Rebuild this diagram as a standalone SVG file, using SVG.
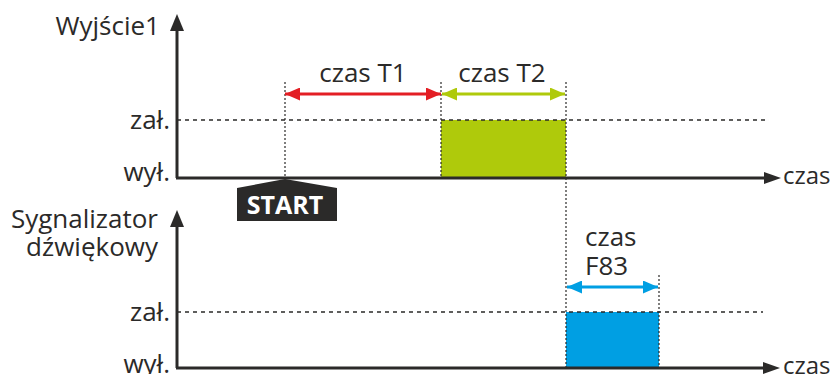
<svg xmlns="http://www.w3.org/2000/svg" width="839" height="374" viewBox="0 0 839 374">
<defs>
<style>
text{font-family:"Open Sans","Liberation Sans",sans-serif;font-size:26px;fill:#2b2a29}
.ax{stroke:#2b2a29;stroke-width:3;fill:none}
.dash{stroke:#2b2a29;stroke-width:1.5;stroke-dasharray:4 4;fill:none}
.dot{stroke:#2b2a29;stroke-width:1.2;stroke-dasharray:2 2;fill:none}
.r{text-anchor:end}
</style>
<marker id="ar" viewBox="0 0 15 13" refX="15" refY="6.5" markerWidth="15" markerHeight="13" markerUnits="userSpaceOnUse" orient="auto-start-reverse"><path d="M0,0L15,6.5L0,13z" fill="#e31e24"/></marker>
<marker id="ag" viewBox="0 0 15 13" refX="15" refY="6.5" markerWidth="15" markerHeight="13" markerUnits="userSpaceOnUse" orient="auto-start-reverse"><path d="M0,0L15,6.5L0,13z" fill="#afca0b"/></marker>
<marker id="ab" viewBox="0 0 15 13" refX="15" refY="6.5" markerWidth="15" markerHeight="13" markerUnits="userSpaceOnUse" orient="auto-start-reverse"><path d="M0,0L15,6.5L0,13z" fill="#009fe3"/></marker>
</defs>
<g id="pulse1"><rect x="441" y="120" width="125" height="58" fill="#afca0b"/></g>
<g id="pulse2"><rect x="566" y="312" width="93" height="56" fill="#009fe3"/></g>
<g id="axes1">
<path class="dash" d="M177 120H765"/>
<path class="ax" d="M177 178V30"/>
<path class="ax" d="M176 178H766"/>
<path d="M764 172L781 178L764 184z" fill="#2b2a29"/>
<path d="M170 31L177 14L184 31z" fill="#2b2a29"/>
<text x="160" y="35" class="r">Wyjście1</text>
<text x="170" y="129" class="r">zał.</text>
<text x="170" y="181" class="r">wył.</text>
<text x="783" y="184" style="font-size:24px">czas</text>
</g>
<g id="axes2">
<path class="dash" d="M177 312H763"/>
<path class="ax" d="M177 368V226"/>
<path class="ax" d="M176 368H765"/>
<path d="M763 362L780 368L763 374z" fill="#2b2a29"/>
<path d="M170 227L177 210L184 227z" fill="#2b2a29"/>
<text x="158" y="228" class="r">Sygnalizator</text>
<text x="158" y="256" class="r">dźwiękowy</text>
<text x="170" y="321" class="r">zał.</text>
<text x="170" y="373" class="r">wył.</text>
<text x="783" y="374" style="font-size:24px">czas</text>
</g>
<g id="start">
<path d="M285 179L337 188V221H237V188z" fill="#2b2a29"/>
<text x="285" y="214" text-anchor="middle" style="fill:#fff;font-weight:bold;font-size:25px">START</text>
</g>
<g id="connectors">
<path class="dot" d="M285 82V178"/>
<path class="dot" d="M441 82V178"/>
<path class="dot" d="M566 82V368"/>
<path class="dot" d="M659 275V368"/>
<path d="M285 94H441" stroke="#e31e24" stroke-width="3" marker-start="url(#ar)" marker-end="url(#ar)"/>
<path d="M442 94H565" stroke="#afca0b" stroke-width="3" marker-start="url(#ag)" marker-end="url(#ag)"/>
<path d="M567 287H658" stroke="#009fe3" stroke-width="3" marker-start="url(#ab)" marker-end="url(#ab)"/>
</g>
<g id="labels">
<text x="363" y="82" text-anchor="middle">czas T1</text>
<text x="502" y="82" text-anchor="middle">czas T2</text>
<text x="585" y="246">czas</text>
<text x="585" y="275">F83</text>
</g>
</svg>
